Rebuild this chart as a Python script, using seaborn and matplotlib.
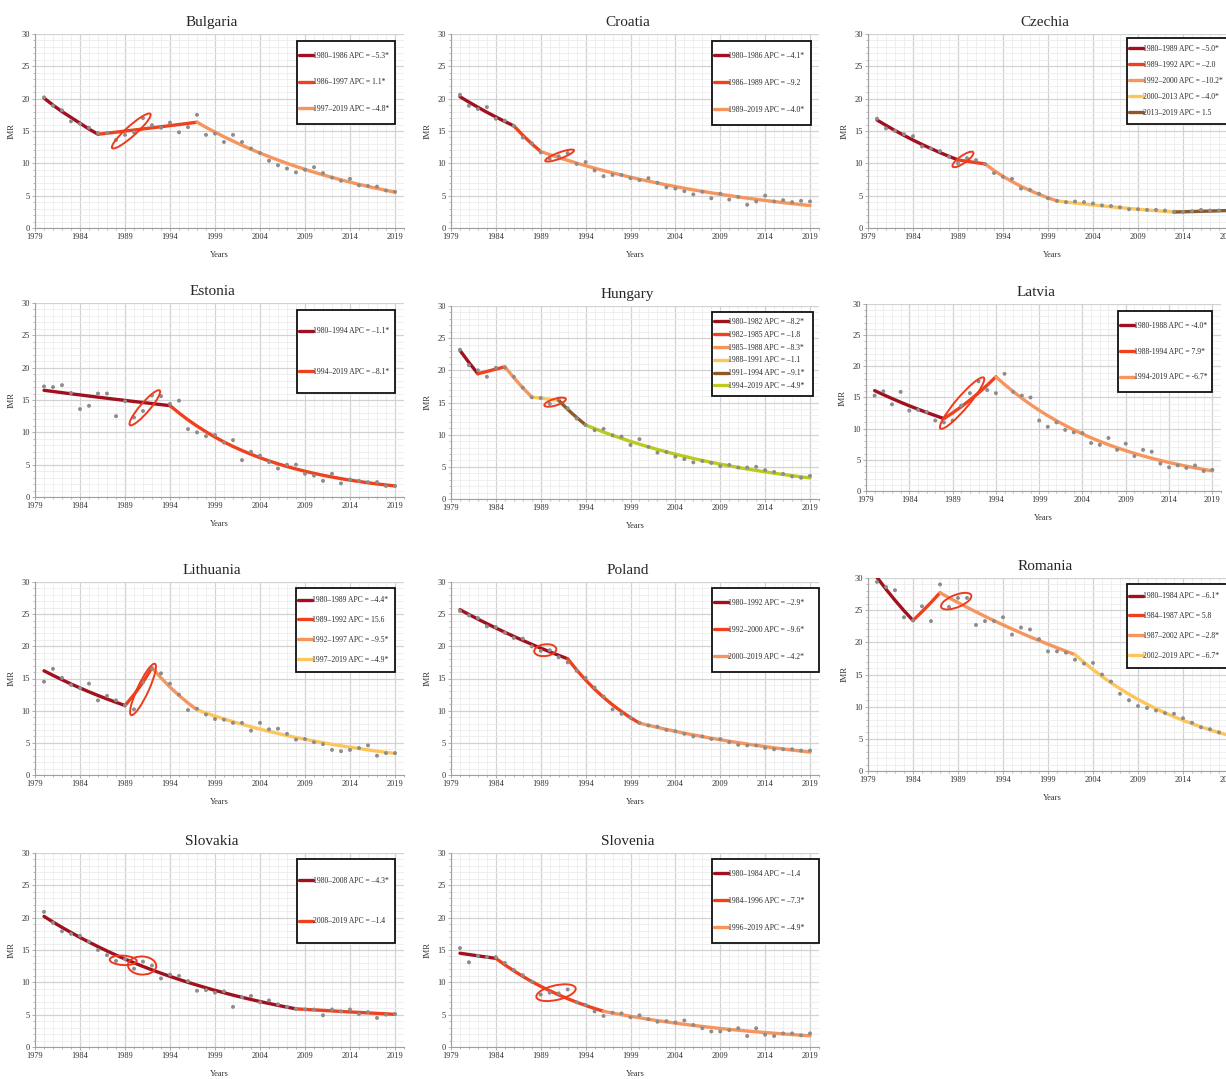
import pandas as pd
import matplotlib
matplotlib.use("Agg")
import matplotlib.pyplot as plt
import seaborn as sns
from matplotlib.lines import Line2D
from matplotlib.patches import Ellipse, Rectangle
from matplotlib.ticker import MultipleLocator

# datos
years = list(range(1980, 2020))

bulgaria_obs = [20.2, 18.9, 18.2, 16.5, 16.1, 15.5, 14.7, 14.7, 13.6, 14.4,
                14.8, 17.0, 15.9, 15.5, 16.3, 14.8, 15.6, 17.5, 14.4, 14.6,
                13.3, 14.4, 13.3, 12.3, 11.6, 10.4, 9.7, 9.2, 8.6, 9.0,
                9.4, 8.5, 7.8, 7.3, 7.6, 6.6, 6.5, 6.4, 5.8, 5.6]
bulgaria_fit = [20.1, 19.0, 18.0, 17.1, 16.2, 15.3, 14.5, 14.66, 14.82, 14.99,
                15.15, 15.32, 15.49, 15.66, 15.83, 16.0, 16.18, 16.36, 15.57, 14.83,
                14.11, 13.44, 12.79, 12.18, 11.59, 11.04, 10.51, 10.0, 9.52, 9.07,
                8.63, 8.22, 7.82, 7.45, 7.09, 6.75, 6.43, 6.12, 5.82, 5.54]
bulgaria_knots = [1980, 1986, 1997, 2019]
bulgaria_labels = ["1980–1986 APC = –5.3*", "1986–1997 APC = 1.1*", "1997–2019 APC = –4.8*"]

croatia_obs = [20.6, 18.9, 18.4, 18.7, 16.9, 16.6, 15.8, 14.0, 13.1, 11.7,
               10.7, 11.1, 11.6, 9.9, 10.2, 8.9, 8.0, 8.2, 8.2, 7.7,
               7.4, 7.7, 7.0, 6.3, 6.1, 5.7, 5.2, 5.6, 4.6, 5.3,
               4.4, 4.8, 3.6, 4.1, 5.0, 4.1, 4.3, 4.0, 4.2, 4.1]
croatia_fit = [20.3, 19.47, 18.67, 17.9, 17.17, 16.47, 15.79, 14.34, 13.02, 11.82,
               11.35, 10.89, 10.46, 10.04, 9.64, 9.25, 8.88, 8.53, 8.19, 7.86,
               7.54, 7.24, 6.95, 6.67, 6.41, 6.15, 5.90, 5.67, 5.44, 5.22,
               5.01, 4.81, 4.62, 4.44, 4.26, 4.09, 3.92, 3.77, 3.62, 3.47]
croatia_knots = [1980, 1986, 1989, 2019]
croatia_labels = ["1980–1986 APC = –4.1*", "1986–1989 APC = –9.2", "1989–2019 APC = –4.0*"]

czechia_obs = [16.9, 15.4, 15.0, 14.5, 14.2, 12.6, 12.3, 11.9, 11.0, 10.0,
               10.8, 10.5, 9.9, 8.5, 7.9, 7.6, 6.1, 5.9, 5.3, 4.6,
               4.2, 4.0, 4.1, 4.0, 3.8, 3.5, 3.4, 3.2, 2.9, 2.9,
               2.8, 2.8, 2.7, 2.5, 2.5, 2.6, 2.8, 2.7, 2.7, 2.6]
czechia_fit = [16.7, 15.87, 15.07, 14.32, 13.6, 12.92, 12.28, 11.66, 11.08, 10.53,
               10.32, 10.11, 9.91, 8.90, 7.99, 7.18, 6.45, 5.79, 5.20, 4.67,
               4.19, 4.02, 3.86, 3.71, 3.56, 3.42, 3.28, 3.15, 3.02, 2.90,
               2.79, 2.67, 2.57, 2.47, 2.51, 2.54, 2.58, 2.62, 2.66, 2.70]
czechia_knots = [1980, 1989, 1992, 2000, 2013, 2019]
czechia_labels = ["1980–1989 APC = –5.0*", "1989–1992 APC = –2.0", "1992–2000 APC = –10.2*",
                  "2000–2013 APC = –4.0*", "2013–2019 APC = 1.5"]

estonia_obs = [17.1, 17.0, 17.3, 16.1, 13.6, 14.1, 16.0, 16.0, 12.5, 14.8,
               12.3, 13.3, 15.7, 15.6, 14.4, 14.9, 10.5, 10.0, 9.4, 9.6,
               8.4, 8.8, 5.7, 7.0, 6.4, 5.4, 4.4, 5.0, 5.0, 3.6,
               3.3, 2.5, 3.6, 2.1, 2.7, 2.5, 2.3, 2.3, 1.7, 1.7]
estonia_fit = [16.5, 16.32, 16.14, 15.96, 15.79, 15.61, 15.44, 15.27, 15.10, 14.94,
               14.77, 14.61, 14.45, 14.29, 14.13, 12.99, 11.93, 10.97, 10.08, 9.26,
               8.51, 7.82, 7.19, 6.61, 6.07, 5.58, 5.13, 4.71, 4.33, 3.98,
               3.66, 3.36, 3.09, 2.84, 2.61, 2.40, 2.20, 2.02, 1.86, 1.71]
estonia_knots = [1980, 1994, 2019]
estonia_labels = ["1980–1994 APC = –1.1*", "1994–2019 APC = –8.1*"]

hungary_obs = [23.2, 20.8, 20.0, 19.0, 20.4, 20.4, 19.0, 17.3, 15.8, 15.7,
               14.8, 15.6, 14.1, 12.5, 11.5, 10.7, 10.9, 9.9, 9.7, 8.4,
               9.3, 8.1, 7.2, 7.3, 6.6, 6.2, 5.7, 5.9, 5.6, 5.1,
               5.3, 4.9, 4.9, 5.0, 4.5, 4.2, 3.9, 3.5, 3.3, 3.6]
hungary_fit = [23.1, 21.21, 19.47, 19.83, 20.19, 20.55, 18.85, 17.28, 15.85, 15.67,
               15.50, 15.33, 13.93, 12.67, 11.51, 10.95, 10.41, 9.90, 9.42, 8.96,
               8.52, 8.10, 7.70, 7.33, 6.97, 6.63, 6.30, 5.99, 5.70, 5.42,
               5.16, 4.90, 4.66, 4.44, 4.22, 4.01, 3.82, 3.63, 3.45, 3.28]
hungary_knots = [1980, 1982, 1985, 1988, 1991, 1994, 2019]
hungary_labels = ["1980–1982 APC = –8.2*", "1982–1985 APC = –1.8", "1985–1988 APC = –8.3*",
                  "1988–1991 APC = –1.1", "1991–1994 APC = –9.1*", "1994–2019 APC = –4.9*"]

latvia_obs = [15.3, 16.0, 13.9, 15.9, 12.9, 13.0, 12.7, 11.3, 11.0, 11.3,
              13.7, 15.7, 17.6, 16.2, 15.7, 18.8, 15.9, 15.3, 15.0, 11.3,
              10.3, 11.0, 9.8, 9.4, 9.3, 7.7, 7.4, 8.5, 6.6, 7.6,
              5.6, 6.6, 6.3, 4.4, 3.8, 4.1, 3.7, 4.1, 3.2, 3.4]
latvia_fit = [16.1, 15.46, 14.84, 14.24, 13.67, 13.13, 12.60, 12.10, 11.61, 12.53,
              13.52, 14.58, 15.74, 16.98, 18.32, 17.09, 15.95, 14.88, 13.88, 12.95,
              12.08, 11.27, 10.52, 9.81, 9.15, 8.54, 7.97, 7.43, 6.94, 6.47,
              6.04, 5.63, 5.25, 4.90, 4.57, 4.27, 3.98, 3.71, 3.47, 3.23]
latvia_knots = [1980, 1988, 1994, 2019]
latvia_labels = ["1980-1988 APC = -4.0*", "1988-1994 APC = 7.9*", "1994-2019 APC = -6.7*"]

lithuania_obs = [14.5, 16.5, 15.1, 14.0, 13.5, 14.2, 11.6, 12.3, 11.6, 10.8,
                 10.2, 14.4, 16.5, 15.8, 14.2, 12.5, 10.1, 10.3, 9.4, 8.7,
                 8.6, 8.1, 8.1, 6.9, 8.1, 7.1, 7.2, 6.4, 5.5, 5.6,
                 5.1, 4.8, 3.9, 3.7, 3.9, 4.2, 4.6, 3.0, 3.4, 3.4]
lithuania_fit = [16.2, 15.49, 14.81, 14.15, 13.53, 12.93, 12.36, 11.82, 11.30, 10.80,
                 12.48, 14.43, 16.68, 15.10, 13.66, 12.36, 11.19, 10.13, 9.63, 9.16,
                 8.71, 8.29, 7.88, 7.50, 7.13, 6.78, 6.45, 6.13, 5.83, 5.55,
                 5.28, 5.02, 4.77, 4.54, 4.32, 4.11, 3.90, 3.71, 3.53, 3.36]
lithuania_knots = [1980, 1989, 1992, 1997, 2019]
lithuania_labels = ["1980–1989 APC = –4.4*", "1989–1992 APC = 15.6", "1992–1997 APC = –9.5*",
                    "1997–2019 APC = –4.9*"]

poland_obs = [25.5, 24.8, 24.4, 23.1, 23.0, 22.1, 21.3, 21.2, 20.0, 19.3,
              19.4, 18.3, 17.5, 16.2, 15.1, 13.6, 12.2, 10.2, 9.5, 8.9,
              8.1, 7.7, 7.5, 7.0, 6.8, 6.4, 6.0, 6.0, 5.6, 5.6,
              5.1, 4.7, 4.6, 4.6, 4.2, 4.0, 4.0, 4.0, 3.8, 3.8]
poland_fit = [25.7, 24.95, 24.23, 23.53, 22.85, 22.19, 21.54, 20.92, 20.31, 19.72,
              19.15, 18.60, 18.06, 16.33, 14.76, 13.34, 12.06, 10.90, 9.86, 8.91,
              8.06, 7.72, 7.40, 7.09, 6.79, 6.50, 6.23, 5.97, 5.72, 5.48,
              5.25, 5.03, 4.81, 4.61, 4.42, 4.23, 4.05, 3.88, 3.72, 3.56]
poland_knots = [1980, 1992, 2000, 2019]
poland_labels = ["1980–1992 APC = –2.9*", "1992–2000 APC = –9.6*", "2000–2019 APC = –4.2*"]

romania_obs = [29.4, 28.6, 28.1, 23.9, 23.4, 25.6, 23.3, 29.0, 25.5, 26.9,
               26.9, 22.7, 23.3, 23.3, 23.9, 21.2, 22.3, 22.0, 20.5, 18.6,
               18.6, 18.4, 17.3, 16.7, 16.8, 15.0, 13.9, 12.0, 11.0, 10.1,
               9.8, 9.4, 9.0, 8.9, 8.2, 7.5, 6.8, 6.5, 6.0, 5.7]
romania_fit = [30.1, 28.26, 26.54, 24.92, 23.40, 24.76, 26.19, 27.71, 26.93, 26.18,
               25.45, 24.74, 24.04, 23.37, 22.72, 22.08, 21.46, 20.86, 20.28, 19.71,
               19.16, 18.62, 18.10, 16.89, 15.76, 14.70, 13.71, 12.80, 11.94, 11.14,
               10.39, 9.70, 9.05, 8.44, 7.87, 7.35, 6.85, 6.39, 5.97, 5.57]
romania_knots = [1980, 1984, 1987, 2002, 2019]
romania_labels = ["1980–1984 APC = –6.1*", "1984–1987 APC = 5.8", "1987–2002 APC = –2.8*",
                  "2002–2019 APC = –6.7*"]

slovakia_obs = [20.9, 19.2, 17.9, 17.5, 17.2, 16.3, 15.0, 14.2, 13.3, 13.6,
                12.1, 13.2, 12.6, 10.6, 11.2, 11.0, 10.2, 8.7, 8.8, 8.4,
                8.6, 6.2, 7.7, 7.9, 6.9, 7.2, 6.6, 6.2, 5.9, 5.8,
                5.8, 4.9, 5.8, 5.5, 5.8, 5.1, 5.4, 4.5, 5.0, 5.1]
slovakia_fit = [20.2, 19.33, 18.50, 17.71, 16.94, 16.22, 15.52, 14.85, 14.21, 13.60,
                13.02, 12.46, 11.92, 11.41, 10.92, 10.45, 10.00, 9.57, 9.16, 8.76,
                8.39, 8.02, 7.68, 7.35, 7.03, 6.73, 6.44, 6.16, 5.90, 5.82,
                5.74, 5.66, 5.58, 5.50, 5.42, 5.35, 5.27, 5.20, 5.13, 5.05]
slovakia_knots = [1980, 2008, 2019]
slovakia_labels = ["1980–2008 APC = –4.3*", "2008–2019 APC = –1.4"]

slovenia_obs = [15.3, 13.1, 14.1, 13.9, 13.9, 13.0, 11.9, 11.1, 10.1, 8.1,
                8.4, 8.3, 8.9, 6.9, 6.5, 5.5, 4.8, 5.3, 5.2, 4.6,
                4.9, 4.3, 3.9, 4.0, 3.8, 4.1, 3.4, 2.9, 2.4, 2.4,
                2.6, 2.9, 1.7, 2.9, 1.9, 1.7, 2.1, 2.1, 1.8, 2.1]
slovenia_fit = [14.5, 14.30, 14.10, 13.90, 13.71, 12.71, 11.78, 10.92, 10.12, 9.38,
                8.70, 8.06, 7.47, 6.93, 6.42, 5.95, 5.52, 5.25, 4.99, 4.75,
                4.52, 4.29, 4.08, 3.88, 3.69, 3.51, 3.34, 3.18, 3.02, 2.87,
                2.73, 2.60, 2.47, 2.35, 2.24, 2.13, 2.02, 1.92, 1.83, 1.74]
slovenia_knots = [1980, 1984, 1996, 2019]
slovenia_labels = ["1980–1984 APC = –1.4", "1984–1996 APC = –7.3*", "1996–2019 APC = –4.9*"]

panels = [
    ("Bulgaria", bulgaria_obs, bulgaria_fit, bulgaria_knots, bulgaria_labels),
    ("Croatia", croatia_obs, croatia_fit, croatia_knots, croatia_labels),
    ("Czechia", czechia_obs, czechia_fit, czechia_knots, czechia_labels),
    ("Estonia", estonia_obs, estonia_fit, estonia_knots, estonia_labels),
    ("Hungary", hungary_obs, hungary_fit, hungary_knots, hungary_labels),
    ("Latvia", latvia_obs, latvia_fit, latvia_knots, latvia_labels),
    ("Lithuania", lithuania_obs, lithuania_fit, lithuania_knots, lithuania_labels),
    ("Poland", poland_obs, poland_fit, poland_knots, poland_labels),
    ("Romania", romania_obs, romania_fit, romania_knots, romania_labels),
    ("Slovakia", slovakia_obs, slovakia_fit, slovakia_knots, slovakia_labels),
    ("Slovenia", slovenia_obs, slovenia_fit, slovenia_knots, slovenia_labels),
]

seg_colors = ["#A0101E", "#F0411F", "#F7955E", "#FDC65C", "#8C5A2A", "#BACB1E"]

# layout en pixeles: ejes (izq, arriba, der, abajo) y caja de leyenda
W, H = 1226, 1079
layout = {
    "Bulgaria": ((35, 34, 404, 228), (297, 41, 395, 124)),
    "Croatia": ((451, 34, 819, 228), (712, 41, 811, 125)),
    "Czechia": ((868, 34, 1237, 228), (1127, 38, 1236, 124)),
    "Estonia": ((35, 303, 404, 497), (297, 310, 395, 393)),
    "Hungary": ((451, 306, 819, 499), (712, 312, 813, 396)),
    "Latvia": ((866, 304, 1221, 491), (1118, 311, 1212, 392)),
    "Lithuania": ((35, 582, 404, 775), (296, 588, 395, 672)),
    "Poland": ((451, 582, 819, 775), (712, 588, 819, 672)),
    "Romania": ((868, 578, 1237, 771), (1127, 584, 1236, 668)),
    "Slovakia": ((35, 853, 404, 1047), (297, 859, 395, 943)),
    "Slovenia": ((451, 853, 819, 1047), (712, 859, 819, 943)),
}

# elipses rojas (anotaciones): centro x, centro y, ancho, alto, angulo
ellipses = {
    "Bulgaria": [(1989.7, 15.0, 6.8, 1.3, 52)],
    "Croatia": [(1991.1, 11.2, 3.6, 0.9, 28)],
    "Czechia": [(1989.55, 10.6, 3.2, 1.0, 46)],
    "Estonia": [(1991.2, 13.8, 6.3, 1.2, 59)],
    "Hungary": [(1990.6, 15.05, 2.6, 1.0, 25)],
    "Latvia": [(1990.1, 14.1, 9.6, 1.6, 59)],
    "Lithuania": [(1991.0, 13.3, 8.4, 1.3, 72)],
    "Poland": [(1989.5, 19.4, 2.5, 1.8, 15)],
    "Romania": [(1988.8, 26.4, 3.85, 1.8, 33)],
    "Slovakia": [(1988.8, 13.4, 3.0, 1.45, -5), (1990.9, 12.6, 3.15, 2.8, -10)],
    "Slovenia": [(1990.7, 8.4, 4.6, 2.2, 20)],
}

sns.set_style("white")
plt.rcParams["font.family"] = ["Liberation Serif", "DejaVu Serif"]

fig = plt.figure(figsize=(W / 100, H / 100), dpi=100)
fs_leg = 5.5
fs_px = fs_leg * 100 / 72

for name, obs, fit, knots, labels in panels:
    (l, t, r, b), (bl, bt, br, bb) = layout[name]
    ax = fig.add_axes([l / W, 1 - b / H, (r - l) / W, (b - t) / H])

    rows = []
    for i, lab in enumerate(labels):
        for yr, v in zip(years, fit):
            if knots[i] <= yr <= knots[i + 1]:
                rows.append((yr, v, lab))
    fit_df = pd.DataFrame(rows, columns=["year", "imr", "seg"])
    obs_df = pd.DataFrame({"year": years, "imr": obs})

    cols = seg_colors[:len(labels)]
    sns.lineplot(data=fit_df, x="year", y="imr", hue="seg", hue_order=labels,
                 palette=cols, linewidth=2.4, estimator=None, sort=False,
                 legend=False, ax=ax, zorder=2)
    sns.scatterplot(data=obs_df, x="year", y="imr", color="#8C8C8C", s=8,
                    edgecolor="none", ax=ax, zorder=3)

    for cx, cy, ew, eh, ang in ellipses.get(name, []):
        ax.add_patch(Ellipse((cx, cy), ew, eh, angle=ang, fill=False,
                             edgecolor="#EE3B1E", linewidth=1.4, zorder=4))

    ax.set_xlim(1979, 2020)
    ax.set_ylim(0, 30)
    ax.xaxis.set_major_locator(MultipleLocator(5))
    ax.xaxis.set_minor_locator(MultipleLocator(1))
    ax.yaxis.set_major_locator(MultipleLocator(5))
    ax.yaxis.set_minor_locator(MultipleLocator(1))
    ax.set_xticks(range(1979, 2020, 5))
    ax.grid(which="major", color="#D2D2D2", linewidth=0.9)
    ax.grid(which="minor", color="#ECECEC", linewidth=0.6)
    ax.set_axisbelow(True)
    for s in ["top", "right"]:
        ax.spines[s].set_visible(False)
    for s in ["left", "bottom"]:
        ax.spines[s].set_color("#A0A0A0")
        ax.spines[s].set_linewidth(0.8)
    ax.tick_params(which="major", labelsize=6, length=2, width=0.6, color="#A0A0A0",
                   labelcolor="#333333", pad=1.5, left=True, bottom=True)
    ax.tick_params(which="minor", length=1.5, width=0.5, color="#A0A0A0", left=True, bottom=True)

    ax.set_xlabel("Years", fontsize=6, labelpad=7, color="#333333")
    ax.set_ylabel("IMR", fontsize=6, labelpad=4, color="#333333")
    ax.set_title(name, fontsize=11, pad=6, x=0.48)

    # marco de la leyenda
    ax.add_patch(Rectangle((bl / W, 1 - bb / H), (br - bl) / W, (bb - bt) / H,
                           transform=fig.transFigure, facecolor="white",
                           edgecolor="#111111", linewidth=1.3, zorder=4.8, clip_on=False))
    n = len(labels)
    row_px = (bb - bt) / n
    spacing = max((row_px - 1.2 * fs_px) / fs_px, 0.2)
    handles = [Line2D([], [], color=c, linewidth=2.4) for c in cols]
    ax.legend(handles, labels, loc="center left", frameon=False,
              bbox_to_anchor=(bl / W, 1 - (bt + bb) / 2 / H), bbox_transform=fig.transFigure,
              fontsize=fs_leg, handlelength=1.8, handletextpad=0.05, borderpad=0.3,
              borderaxespad=0, labelspacing=spacing)

plt.savefig("out.png", dpi=100)
plt.close()
